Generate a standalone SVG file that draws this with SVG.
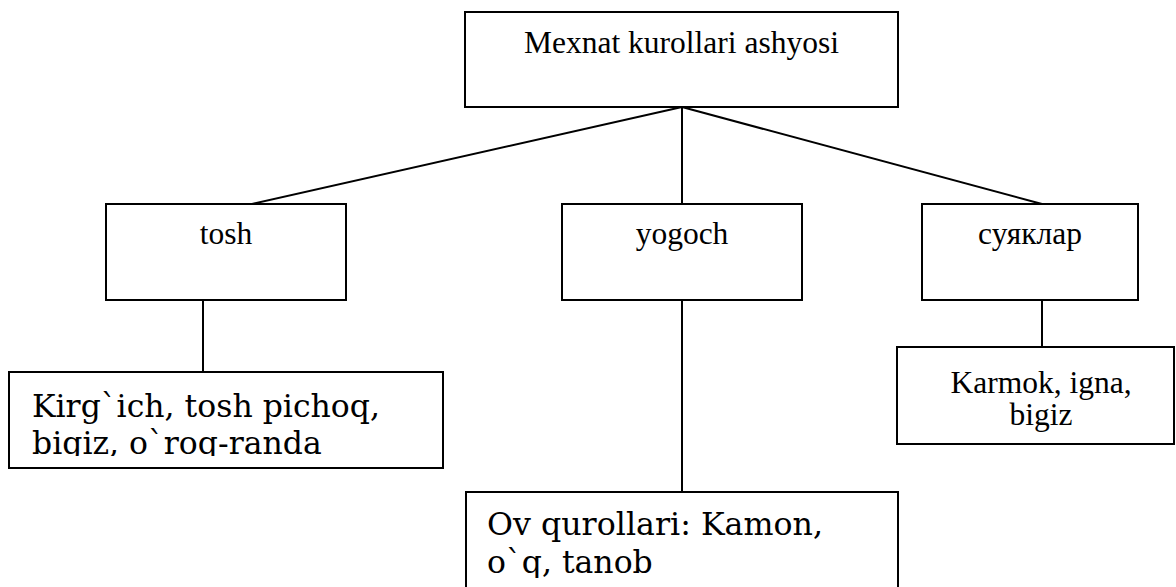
<svg xmlns="http://www.w3.org/2000/svg" width="1176" height="587" viewBox="0 0 1176 587">
<style>
.box{fill:#fff;stroke:#000;stroke-width:2}
.ln{stroke:#000;stroke-width:2;fill:none}
.tr{font-family:"Liberation Serif","Times New Roman",serif;font-size:31.5px;fill:#000;text-anchor:middle}
.dv{font-family:"DejaVu Serif",serif;font-size:31.5px;fill:#000}
</style>
<defs>
<clipPath id="c1"><rect x="0" y="372" width="460" height="84"/></clipPath>
<clipPath id="c2"><rect x="466" y="492" width="440" height="86"/></clipPath>
</defs>
<rect width="1176" height="587" fill="#fff"/>
<g id="connectors">
<line class="ln" x1="682" y1="107" x2="252" y2="204"/>
<line class="ln" x1="682" y1="107" x2="682" y2="204"/>
<line class="ln" x1="682" y1="107" x2="1042" y2="204"/>
<line class="ln" x1="203" y1="300" x2="203" y2="372"/>
<line class="ln" x1="682" y1="300" x2="682" y2="492"/>
<line class="ln" x1="1042" y1="300" x2="1042" y2="347"/>
</g>
<g id="root">
<rect class="box" x="465" y="12" width="433" height="95"/>
<text class="tr" x="681.5" y="53">Mexnat kurollari ashyosi</text>
</g>
<g id="tosh">
<rect class="box" x="106" y="204" width="240" height="96"/>
<text class="tr" x="226" y="244">tosh</text>
</g>
<g id="yogoch">
<rect class="box" x="562" y="204" width="240" height="96"/>
<text class="tr" x="682" y="244">yogoch</text>
</g>
<g id="suyaklar">
<rect class="box" x="922" y="204" width="216" height="96"/>
<text class="tr" x="1030" y="244">суяклар</text>
</g>
<g id="kirgich">
<rect class="box" x="9" y="372" width="434" height="96"/>
<g clip-path="url(#c1)">
<text class="dv" x="32" y="417" textLength="348" lengthAdjust="spacingAndGlyphs">Kirg`ich, tosh pichoq,</text>
<text class="dv" x="32" y="454">bigiz, o`roq-randa</text>
</g>
</g>
<g id="ov">
<rect class="box" x="466" y="492" width="432" height="110"/>
<g clip-path="url(#c2)">
<text class="dv" x="487" y="535" textLength="336" lengthAdjust="spacingAndGlyphs">Ov qurollari: Kamon,</text>
<text class="dv" x="487" y="573">o`q, tanob</text>
</g>
</g>
<g id="karmok">
<rect class="box" x="897" y="347" width="277" height="97"/>
<text class="tr" x="1041" y="393">Karmok, igna,</text>
<text class="tr" x="1041" y="425">bigiz</text>
</g>
</svg>
